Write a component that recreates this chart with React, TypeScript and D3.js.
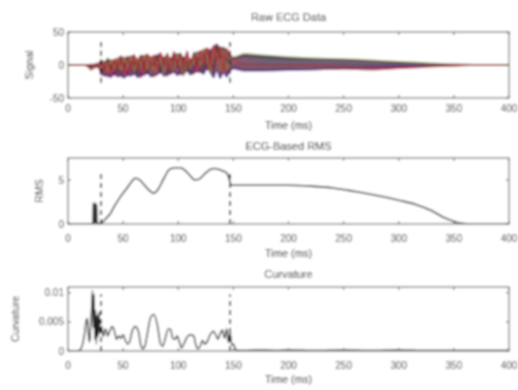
import React, { useEffect, useRef } from "react";
import * as d3 from "d3";

// x axis ticks shared by all three panels
const timeTicks = [0, 50, 100, 150, 200, 250, 300, 350, 400];
const rawTicks = [-50, 0, 50];
const rmsTicks = [0, 5];
const curvTicks = [0, 0.005, 0.01];

// raw ECG channels: noisy part sampled every 3 ms from 18 to 150, smooth tail sampled sparsely
const noisyTimes = d3.range(18, 151, 3);
const tailTimes = [160, 175, 200, 225, 250, 275, 300, 325, 350, 375, 400];

const redNoisy = [-3, -6, 2, -4, 8, -10, 5, -14, 9, -6, 14, -12, 10, -8, 16, -5, 12, -10, 17, -4, 15, -9, 19, -3, 14, -8, 20, -2, 16, -7, 21, 0, 15, -6, 22, 2, 26, -4, 30, 5, 28, -8, 25, 12, 8];
const maroonNoisy = [0, -2, -5, 3, -15, 4, -18, 2, -16, 6, -18, 3, -17, 8, -15, 5, -19, 9, -14, 4, -18, 10, -13, 6, -17, 11, -12, 8, -15, 12, -10, 9, -14, 13, -12, 18, -8, 24, -14, 28, -18, 20, -15, -5, -3];
const blueNoisy = [0, 1, -3, -1, -6, -17, -8, -19, -10, -18, -7, -20, -9, -17, -6, -19, -11, -16, -5, -18, -10, -15, -4, -17, -8, -14, -6, -16, -3, -12, -9, -15, -2, -11, -6, -14, 0, -10, -19, -8, -20, -12, -18, -9, -6];
const blackNoisy = [0, 0, 1, -2, 3, -8, 10, -6, 4, -12, 8, -3, 13, -10, 6, -14, 15, -2, -12, 11, -1, 16, -10, 12, 2, -11, 14, -4, 18, -9, 6, -13, 19, -1, 10, -9, 20, 12, -6, 32, 10, 27, 4, 16, 10];
const oliveNoisy = [-2, -8, -1, 2, -4, 6, -12, 8, -3, 11, -9, 12, -2, 14, -11, 10, 0, 15, -8, 13, -13, 5, 9, -14, 18, 1, -9, 17, 3, -16, 14, -4, 8, 20, -2, 24, 14, -12, 22, 16, -10, 24, -6, 14, 12];

const redTail = [2, 1, 0, -1, -3, -5, -4, -2, -0.5, 0, 0];
const maroonTail = [-6, -7, -6, -6, -6, -7, -5, -3, -1, 0, 0];
const blueTail = [-9, -9, -8, -7, -5, -3, -2, -1.5, -0.5, 0, 0];
const blackTail = [13, 12, 10, 9, 8, 6, 4, 2, 0.8, 0.2, 0];
const oliveTail = [17, 15, 12, 10, 9, 7, 5, 3, 1, 0.3, 0];

// ECG-based RMS [time, value]
const rmsData = [
  [0, 0], [20, 0], [22.5, 0.05], [23, 2.4], [23.5, 0.1], [24, 2.3], [24.5, 0.1], [25, 2.4],
  [25.5, 0.1], [26, 2.2], [26.5, 0.05], [28, 0.05], [31, 0.2], [35, 0.7], [38, 1.1], [42, 2.0],
  [47, 3.0], [53, 4.0], [57, 4.7], [61, 5.2], [64, 5.1], [68, 4.6], [73, 3.9], [78, 3.5],
  [82, 4.0], [87, 5.2], [92, 6.2], [97, 6.4], [102, 6.4], [106, 6.1], [110, 5.6], [115, 5.0],
  [119, 5.1], [124, 5.7], [129, 6.2], [133, 6.3], [137, 6.2], [141, 6.0], [144, 5.8], [146, 5.2],
  [148, 4.4], [152, 4.4], [175, 4.4], [200, 4.4], [220, 4.3], [240, 4.1], [260, 3.7], [286, 3.1],
  [300, 2.7], [316, 2.2], [330, 1.5], [340, 0.8], [350, 0.3], [358, 0.05], [365, 0], [400, 0],
];

// curvature [time, value]
const curvData = [
  [0, 0], [8, 0], [11, 0.0002], [13, 0.001], [15, 0.003], [16.5, 0.0052], [17.5, 0.0056],
  [18.5, 0.003], [19.5, 0.0015], [20.5, 0.004], [21.5, 0.0075], [22.3, 0.0104], [23, 0.004],
  [23.6, 0.0097], [24.3, 0.002], [25, 0.007], [25.8, 0.0012], [26.5, 0.0062], [27.3, 0.0025],
  [28.2, 0.0067], [29, 0.003], [30.5, 0.0042], [32, 0.0025], [34, 0.0038], [36, 0.0026],
  [38, 0.0035], [40, 0.0042], [42, 0.0035], [44, 0.002], [46, 0.0026], [48, 0.0022],
  [50, 0.0028], [52, 0.0018], [54, 0.0012], [56, 0.0016], [58, 0.0033], [61, 0.0042],
  [64, 0.0033], [66, 0.001], [68, 0.0004], [70, 0.001], [72, 0.003], [75, 0.0058], [78, 0.0063],
  [81, 0.0045], [84, 0.0012], [86, 0.0008], [88, 0.002], [91, 0.0038], [93, 0.0037],
  [95, 0.0022], [97, 0.002], [99, 0.0026], [101, 0.0016], [103, 0.0005], [105, 0.0012],
  [108, 0.0024], [111, 0.0028], [114, 0.0026], [116, 0.001], [118, 0.0004], [120, 0.0009],
  [122, 0.0018], [124, 0.0012], [126, 0.0015], [129, 0.0028], [132, 0.0034], [134, 0.0028],
  [136, 0.002], [138, 0.003], [140, 0.0036], [142, 0.0022], [144, 0.0038], [145.5, 0.0015],
  [147, 0.0032], [148.5, 0.001], [150, 0.0012], [152, 0.0003], [154, 0.0001], [160, 0.0001],
  [175, 0.0002], [190, 0.0001], [200, 0.0002], [225, 0.0001], [250, 0.0002], [275, 0.0001],
  [300, 0.0002], [325, 0.0001], [350, 0.0001], [400, 0.0001],
];

// event markers (ms)
const markers = [30, 147];

export default function App() {
  const svgRef = useRef(null);

  useEffect(() => {
    const svg = d3.select(svgRef.current);
    svg.selectAll("*").remove();

    const defs = svg.append("defs");
    defs.append("filter").attr("id", "soft")
      .attr("x", "-5%").attr("y", "-5%").attr("width", "110%").attr("height", "110%")
      .append("feGaussianBlur").attr("stdDeviation", 0.8);

    const root = svg.append("g").attr("filter", "url(#soft)");
    root.append("rect").attr("width", 518).attr("height", 390).attr("fill", "white");
    const font = "Liberation Sans, Arial, sans-serif";
    const x = d3.scaleLinear().domain([0, 400]).range([68, 509]);

    const panels = [
      { top: 32, bottom: 98, domain: [-50, 50], ticks: rawTicks,
        title: "Raw ECG Data", titleY: 21, label: "Signal", labelX: 33, tickY: 112, xlabY: 129 },
      { top: 158, bottom: 224, domain: [0, 7.5], ticks: rmsTicks,
        title: "ECG-Based RMS", titleY: 150, label: "RMS", labelX: 43, tickY: 242, xlabY: 257 },
      { top: 287, bottom: 351, domain: [0, 0.011], ticks: curvTicks,
        title: "Curvature", titleY: 278, label: "Curvature", labelX: 19, tickY: 369, xlabY: 383 },
    ];

    const ys = panels.map(p => d3.scaleLinear().domain(p.domain).range([p.bottom, p.top]));
    const plots = [];

    panels.forEach((p, i) => {
      const y = ys[i];
      const g = root.append("g");

      const clipId = "clip" + i;
      defs.append("clipPath").attr("id", clipId)
        .append("rect").attr("x", x(0)).attr("y", p.top)
        .attr("width", x(400) - x(0)).attr("height", p.bottom - p.top);
      plots.push(g.append("g").attr("clip-path", `url(#${clipId})`));

      // axes box and inward ticks
      g.append("rect")
        .attr("x", x(0)).attr("y", p.top)
        .attr("width", x(400) - x(0)).attr("height", p.bottom - p.top)
        .attr("fill", "none").attr("stroke", "#555").attr("stroke-width", 1);
      timeTicks.forEach(t => {
        g.append("line").attr("x1", x(t)).attr("x2", x(t)).attr("y1", p.bottom).attr("y2", p.bottom - 3)
          .attr("stroke", "#555");
        g.append("line").attr("x1", x(t)).attr("x2", x(t)).attr("y1", p.top).attr("y2", p.top + 3)
          .attr("stroke", "#555");
        g.append("text").attr("x", x(t)).attr("y", p.tickY)
          .attr("text-anchor", "middle").attr("font-size", 10).attr("font-family", font)
          .attr("fill", "#333").text(t);
      });
      p.ticks.forEach(v => {
        g.append("line").attr("x1", x(0)).attr("x2", x(0) + 3).attr("y1", y(v)).attr("y2", y(v))
          .attr("stroke", "#555");
        g.append("line").attr("x1", x(400)).attr("x2", x(400) - 3).attr("y1", y(v)).attr("y2", y(v))
          .attr("stroke", "#555");
        g.append("text").attr("x", x(0) - 4).attr("y", y(v) + 3.5)
          .attr("text-anchor", "end").attr("font-size", 10).attr("font-family", font)
          .attr("fill", "#333").text(String(v));
      });

      g.append("text").attr("x", (x(0) + x(400)) / 2).attr("y", p.titleY)
        .attr("text-anchor", "middle").attr("font-size", 11).attr("font-family", font)
        .attr("fill", "#222").text(p.title);
      g.append("text").attr("x", (x(0) + x(400)) / 2).attr("y", p.xlabY)
        .attr("text-anchor", "middle").attr("font-size", 10.5).attr("font-family", font)
        .attr("fill", "#222").text("Time (ms)");
      g.append("text")
        .attr("transform", `translate(${p.labelX},${(p.top + p.bottom) / 2}) rotate(-90)`)
        .attr("text-anchor", "middle").attr("font-size", 10.5).attr("font-family", font)
        .attr("fill", "#222").text(p.label);
    });

    const line = (y) => d3.line().x(d => x(d[0])).y(d => y(d[1]));

    // raw ECG channels
    const series = (noisy, tail) => [[0, 0], [15, 0]]
      .concat(noisyTimes.map((t, k) => [t, noisy[k]]))
      .concat(tailTimes.map((t, k) => [t, tail[k]]));
    const channels = [
      { color: "#2c2ca0", pts: series(blueNoisy, blueTail) },
      { color: "#8e1d40", pts: series(maroonNoisy, maroonTail) },
      { color: "#3a3a3a", pts: series(blackNoisy, blackTail) },
      { color: "#86863c", pts: series(oliveNoisy, oliveTail) },
      { color: "#c42828", pts: series(redNoisy, redTail) },
    ];

    // envelope of all channels, drawn as a dense band underneath
    const envelope = channels[0].pts.map((d, k) => {
      const vals = channels.map(c => c.pts[k][1]);
      return [d[0], d3.min(vals), d3.max(vals)];
    });
    const y0 = ys[0];
    const grad = defs.append("linearGradient").attr("id", "bandGrad")
      .attr("gradientUnits", "userSpaceOnUse")
      .attr("x1", x(0)).attr("x2", x(400)).attr("y1", 0).attr("y2", 0);
    grad.append("stop").attr("offset", "0%").attr("stop-color", "#7a2a45");
    grad.append("stop").attr("offset", "35%").attr("stop-color", "#6e2c48");
    grad.append("stop").attr("offset", "45%").attr("stop-color", "#3e3652");
    grad.append("stop").attr("offset", "75%").attr("stop-color", "#55304e");
    grad.append("stop").attr("offset", "100%").attr("stop-color", "#777777");

    plots[0].append("line").attr("x1", x(0)).attr("x2", x(400)).attr("y1", y0(0)).attr("y2", y0(0))
      .attr("stroke", "#9a9a9a").attr("stroke-width", 1.2);
    plots[0].append("path")
      .attr("d", d3.area().x(d => x(d[0])).y0(d => y0(d[1])).y1(d => y0(d[2]))
        .curve(d3.curveMonotoneX)(envelope))
      .attr("fill", "url(#bandGrad)").attr("fill-opacity", 0.78);
    channels.forEach(c => {
      plots[0].append("path").attr("d", line(y0).curve(d3.curveMonotoneX)(c.pts))
        .attr("fill", "none").attr("stroke", c.color).attr("stroke-width", 1.6)
        .attr("stroke-opacity", 0.7).attr("stroke-linejoin", "round");
    });

    plots[1].append("path").attr("d", line(ys[1]).curve(d3.curveMonotoneX)(rmsData))
      .attr("fill", "none").attr("stroke", "#333").attr("stroke-width", 1.6);
    plots[2].append("path").attr("d", line(ys[2]).curve(d3.curveMonotoneX)(curvData))
      .attr("fill", "none").attr("stroke", "#222").attr("stroke-width", 1.4);

    // dashed markers
    const spans = [[-27, 35], [0, 6.1], [0, 0.0097]];
    plots.forEach((pl, i) => {
      markers.forEach(m => {
        pl.append("line").attr("x1", x(m)).attr("x2", x(m))
          .attr("y1", ys[i](spans[i][0])).attr("y2", ys[i](spans[i][1]))
          .attr("stroke", "#111").attr("stroke-width", 1.6).attr("stroke-dasharray", "5,4");
      });
    });

    return () => { svg.selectAll("*").remove(); };
  }, []);

  return (
    <svg ref={svgRef} width={518} height={390}
      style={{ position: "absolute", left: 0, top: 0, background: "white" }} />
  );
}
